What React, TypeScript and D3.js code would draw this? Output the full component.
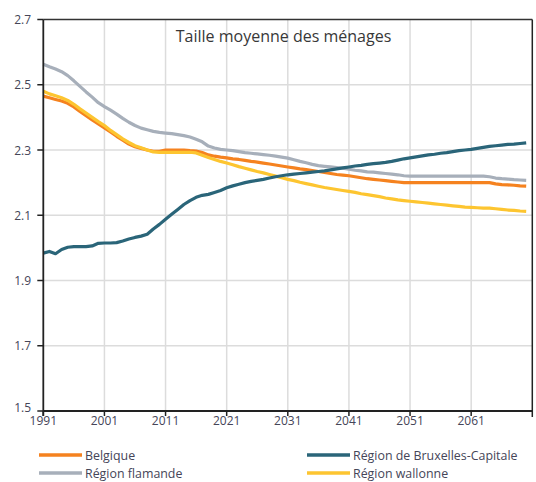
import React from "react";
import * as d3 from "d3";

const years: number[] = d3.range(1991, 2071);

const belgique: number[] = [
  2.465, 2.46, 2.455, 2.45, 2.443, 2.432, 2.418, 2.405, 2.392, 2.38,
  2.368, 2.355, 2.342, 2.33, 2.318, 2.31, 2.305, 2.3, 2.296, 2.296,
  2.3, 2.3, 2.3, 2.3, 2.298, 2.297, 2.292, 2.285, 2.281, 2.278,
  2.276, 2.273, 2.271, 2.268, 2.265, 2.263, 2.26, 2.257, 2.254, 2.251,
  2.248, 2.245, 2.242, 2.24, 2.237, 2.234, 2.231, 2.228, 2.225, 2.223,
  2.221, 2.218, 2.215, 2.212, 2.21, 2.208, 2.206, 2.204, 2.202, 2.2,
  2.2, 2.2, 2.2, 2.2, 2.2, 2.2, 2.2, 2.2, 2.2, 2.2,
  2.2, 2.2, 2.2, 2.2, 2.196, 2.194, 2.193, 2.192, 2.19, 2.189,
];

const flamande: number[] = [
  2.563, 2.555, 2.548, 2.54, 2.528, 2.512, 2.495, 2.478, 2.462, 2.445,
  2.433, 2.422, 2.41, 2.397, 2.385, 2.375, 2.367, 2.362, 2.357, 2.354,
  2.352, 2.35, 2.347, 2.344, 2.34, 2.333, 2.325, 2.312, 2.306, 2.302,
  2.3, 2.298, 2.295, 2.292, 2.29, 2.288, 2.286, 2.284, 2.281, 2.278,
  2.275, 2.27, 2.265, 2.261, 2.256, 2.252, 2.25, 2.248, 2.246, 2.244,
  2.241, 2.238, 2.236, 2.233, 2.232, 2.23, 2.228, 2.226, 2.224, 2.221,
  2.22, 2.22, 2.22, 2.22, 2.22, 2.22, 2.22, 2.22, 2.22, 2.22,
  2.22, 2.22, 2.22, 2.218, 2.214, 2.212, 2.211, 2.209, 2.208, 2.207,
];

const wallonne: number[] = [
  2.48, 2.472, 2.466, 2.46, 2.452, 2.44, 2.426, 2.413, 2.4, 2.387,
  2.375, 2.36, 2.347, 2.334, 2.323, 2.313, 2.307, 2.3, 2.294, 2.293,
  2.293, 2.293, 2.293, 2.293, 2.293, 2.291, 2.284, 2.277, 2.271, 2.265,
  2.26, 2.255, 2.249, 2.244, 2.239, 2.234, 2.23, 2.225, 2.22, 2.215,
  2.21, 2.206, 2.201, 2.197, 2.193, 2.189, 2.185, 2.182, 2.179, 2.176,
  2.173, 2.17, 2.166, 2.163, 2.16, 2.157, 2.153, 2.15, 2.147, 2.145,
  2.143, 2.141, 2.139, 2.137, 2.135, 2.133, 2.131, 2.129, 2.127, 2.125,
  2.124, 2.123, 2.122, 2.122, 2.12, 2.118, 2.116, 2.115, 2.113, 2.112,
];

const bruxelles: number[] = [
  1.984, 1.989, 1.982, 1.995, 2.002, 2.004, 2.004, 2.004, 2.006, 2.014,
  2.015, 2.015, 2.016, 2.021, 2.027, 2.032, 2.036, 2.042, 2.058, 2.072,
  2.088, 2.103, 2.118, 2.133, 2.145, 2.155, 2.161, 2.164, 2.17, 2.176,
  2.184, 2.19, 2.195, 2.2, 2.204, 2.207, 2.21, 2.214, 2.218, 2.221,
  2.224, 2.226, 2.228, 2.23, 2.232, 2.234, 2.236, 2.239, 2.242, 2.245,
  2.248, 2.251, 2.253, 2.256, 2.258, 2.26, 2.262, 2.265, 2.269, 2.273,
  2.276, 2.279, 2.282, 2.285, 2.287, 2.29, 2.292, 2.295, 2.298, 2.3,
  2.302, 2.305, 2.308, 2.311, 2.313, 2.315, 2.317, 2.318, 2.32, 2.322,
];

const yTicks: number[] = [1.5, 1.7, 1.9, 2.1, 2.3, 2.5, 2.7];
const xTicks: number[] = [1991, 2001, 2011, 2021, 2031, 2041, 2051, 2061];

const title = "Taille moyenne des ménages";

const series = [
  { name: "Région flamande", values: flamande, color: "#a7afba" },
  { name: "Belgique", values: belgique, color: "#f5821f" },
  { name: "Région wallonne", values: wallonne, color: "#fdc530" },
  { name: "Région de Bruxelles-Capitale", values: bruxelles, color: "#2a6579" },
];

const legendItems = [
  { name: "Belgique", color: "#f5821f", col: 0, row: 0 },
  { name: "Région de Bruxelles-Capitale", color: "#2a6579", col: 1, row: 0 },
  { name: "Région flamande", color: "#a7afba", col: 0, row: 1 },
  { name: "Région wallonne", color: "#fdc530", col: 1, row: 1 },
];

export default function App() {
  const W = 536;
  const H = 482;
  const left = 43.3;
  const right = 532.3;
  const top = 19.5;
  const bottom = 411;
  const x = d3.scaleLinear().domain([1991, 2071]).range([left, right]);
  const y = d3.scaleLinear().domain([1.5, 2.7]).range([bottom, top]);
  const line = (vals: number[]) =>
    d3
      .line<number>()
      .x((_, i) => x(years[i]))
      .y((v) => y(v))(vals) as string;
  const font = "'Open Sans', 'Noto Sans', sans-serif";
  const textColor = "#454558";
  const legX = [39, 307];
  const legY = [455, 473];

  return (
    <svg
      width={W}
      height={H}
      style={{ position: "absolute", left: 0, top: 0, background: "#fff" }}
      fontFamily={font}
    >
      {/* grid */}
      {yTicks
        .filter((t) => t > 1.5 && t < 2.7)
        .map((t) => (
          <line key={"gy" + t} x1={left} x2={right} y1={y(t)} y2={y(t)} stroke="#dcdcdc" strokeWidth={1.5} />
        ))}
      {xTicks
        .filter((t) => t > 1991)
        .map((t) => (
          <line key={"gx" + t} x1={x(t)} x2={x(t)} y1={top} y2={bottom} stroke="#dcdcdc" strokeWidth={1.5} />
        ))}
      {/* lines */}
      {series.map((s) => (
        <path key={s.name} d={line(s.values)} fill="none" stroke={s.color} strokeWidth={3.2} strokeLinejoin="round" />
      ))}
      {/* frame */}
      <line x1={left} x2={right} y1={top} y2={top} stroke="#333" strokeWidth={1.5} />
      <line x1={right} x2={right} y1={top} y2={bottom + 6} stroke="#222" strokeWidth={1.5} />
      <line x1={left} x2={right} y1={bottom} y2={bottom} stroke="#222" strokeWidth={1.8} />
      <line x1={left} x2={left} y1={top} y2={bottom + 5} stroke="#222" strokeWidth={1.8} />
      {/* y ticks */}
      {yTicks.map((t) => (
        <g key={"yt" + t}>
          <line x1={left - 6} x2={left} y1={y(t)} y2={y(t)} stroke="#222" strokeWidth={1.5} />
          <text
            x={31}
            y={t === 1.5 ? y(t) - 4 : y(t)}
            textAnchor="end"
            dominantBaseline="central"
            fontSize={12}
            fill={textColor}
          >
            {d3.format(".1f")(t)}
          </text>
        </g>
      ))}
      {/* x ticks */}
      {xTicks.map((t) => (
        <g key={"xt" + t}>
          <line x1={x(t)} x2={x(t)} y1={bottom} y2={bottom + 5} stroke="#222" strokeWidth={1.5} />
          <text x={x(t)} y={bottom + 14} textAnchor="middle" fontSize={12} fill={textColor}>
            {String(t)}
          </text>
        </g>
      ))}
      {/* title */}
      <text x={283.5} y={42} textAnchor="middle" fontSize={16} fill="#383838">
        {title}
      </text>
      {/* legend */}
      {legendItems.map((it) => (
        <g key={"lg" + it.name}>
          <line
            x1={legX[it.col]}
            x2={legX[it.col] + 43}
            y1={legY[it.row]}
            y2={legY[it.row]}
            stroke={it.color}
            strokeWidth={3.5}
          />
          <text
            x={legX[it.col] + 46}
            y={legY[it.row]}
            dominantBaseline="central"
            fontSize={12.4}
            fill={textColor}
          >
            {it.name}
          </text>
        </g>
      ))}
    </svg>
  );
}
